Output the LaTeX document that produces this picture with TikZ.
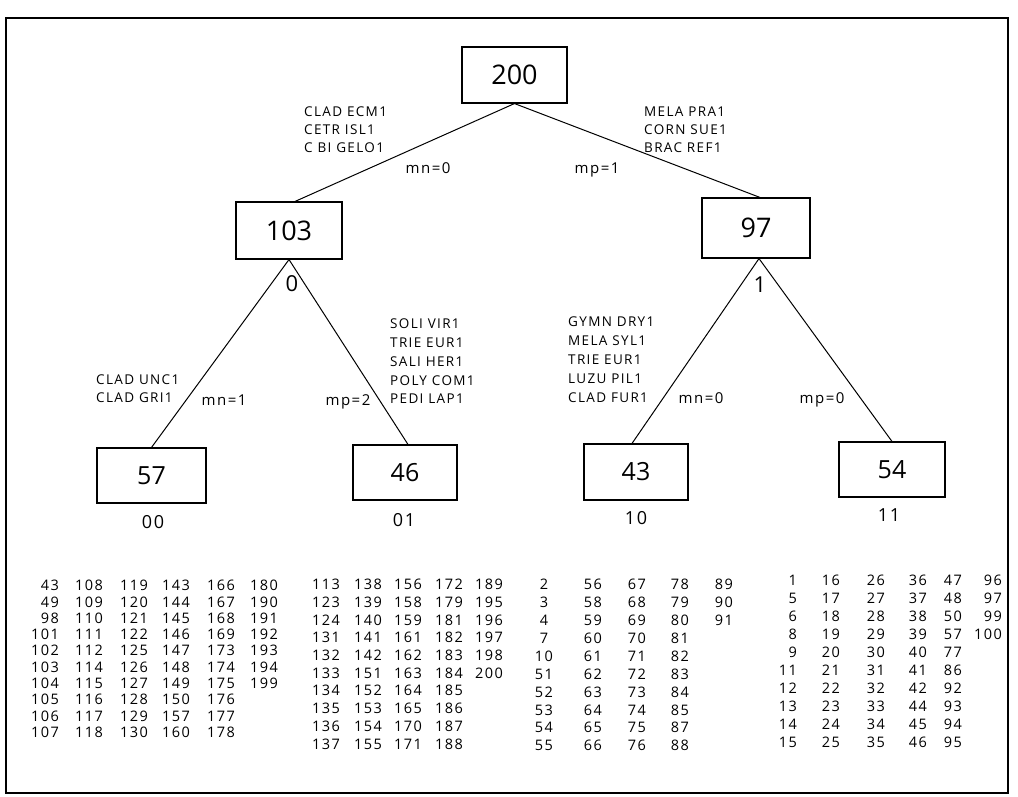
\documentclass[tikz,border=0pt]{standalone}
\usepackage{fontspec}
\setmainfont{Open Sans}
\newfontfamily\lab[LetterSpace=10]{Open Sans}
\begin{document}
\begin{tikzpicture}[x=1pt,y=-1pt,
  box/.style={draw,line width=1.1pt,inner sep=0pt,font=\fontsize{27}{27}\selectfont},
  leaf/.style={draw,line width=1.1pt,inner sep=0pt,font=\fontsize{25}{25}\selectfont},
  edge/.style={line width=1pt},
  lab/.style={font=\lab\fontsize{13.5}{18}\selectfont,align=left,inner sep=0pt,anchor=north west},
  el/.style={font=\lab\fontsize{15}{15}\selectfont,inner sep=0pt,anchor=base},
  bit/.style={font=\fontsize{22}{22}\selectfont,inner sep=0pt},
  code/.style={font=\lab\fontsize{18}{18}\selectfont,inner sep=0pt},
  numr/.style={font=\lab\fontsize{14.5}{16.3}\selectfont,align=right,inner sep=0pt,anchor=north east},
  numc/.style={font=\lab\fontsize{14.5}{17.9}\selectfont,align=center,inner sep=0pt,anchor=north}]
\useasboundingbox (0,0) rectangle (1018,796);
\draw[line width=1.8pt] (6,18) rectangle (1008,793);
% tree boxes
\node[box,minimum width=105pt,minimum height=56pt] (n200) at (514.5,75) {200};
\node[box,minimum width=106pt,minimum height=57pt] (n103) at (289,230.5) {103};
\node[box,minimum width=108pt,minimum height=60pt] (n97) at (756,228) {97};
\node[leaf,minimum width=109pt,minimum height=55pt] (n57) at (151.5,475.5) {57};
\node[leaf,minimum width=104pt,minimum height=55pt] (n46) at (405,472.5) {46};
\node[leaf,minimum width=104pt,minimum height=56pt] (n43) at (636,472) {43};
\node[leaf,minimum width=106pt,minimum height=55pt] (n54) at (892,469.5) {54};
% connectors
\draw[edge] (n200.south) -- ([xshift=6pt]n103.north);
\draw[edge] (n200.south) -- ([xshift=4pt]n97.north);
\draw[edge] (n103.south) -- (n57.north);
\draw[edge] (n103.south) -- ([xshift=3pt]n46.north);
\draw[edge] ([xshift=3pt]n97.south) -- ([xshift=-4pt]n43.north);
\draw[edge] ([xshift=3pt]n97.south) -- (n54.north);
% species labels
\node[lab] (l1) at (304,107) {CLAD ECM1\\CETR ISL1\\C BI GELO1};
\node[lab] (r1) at (644,107) {MELA PRA1\\CORN SUE1\\BRAC REF1};
\node[lab] (l2) at (96,375) {CLAD UNC1\\CLAD GRI1};
\node[lab,font=\lab\fontsize{13.5}{18.75}\selectfont] (r2) at (390,319) {SOLI VIR1\\TRIE EUR1\\SALI HER1\\POLY COM1\\PEDI LAP1};
\node[lab,font=\lab\fontsize{13.5}{19}\selectfont] (l3) at (568,317) {GYMN DRY1\\MELA SYL1\\TRIE EUR1\\LUZU PIL1\\CLAD FUR1};
% edge labels
\node[el] (e1) at (428,173) {mn=0};
\node[el] (e2) at (597,173) {mp=1};
\node[el] (e3) at (224,405) {mn=1};
\node[el] (e4) at (348,405) {mp=2};
\node[el] (e5) at (701,403) {mn=0};
\node[el] (e6) at (822,403) {mp=0};
\node[bit] (b0) at (292,284) {0};
\node[bit] (b1) at (760,285) {1};
% leaf codes
\node[code] (c00) at (153,522) {00};
\node[code] (c01) at (404,520) {01};
\node[code] (c10) at (636,518) {10};
\node[code] (c11) at (889,515) {11};
% group 1
\node[numr] (g1a) at (59,580) {43\\49\\98\\101\\102\\103\\104\\105\\106\\107};
\node[numr] (g1b) at (103,580) {108\\109\\110\\111\\112\\114\\115\\116\\117\\118};
\node[numr] (g1c) at (148,580) {119\\120\\121\\122\\125\\126\\127\\128\\129\\130};
\node[numr] (g1d) at (190,580) {143\\144\\145\\146\\147\\148\\149\\150\\157\\160};
\node[numr] (g1e) at (235,580) {166\\167\\168\\169\\173\\174\\175\\176\\177\\178};
\node[numr] (g1f) at (278,580) {180\\190\\191\\192\\193\\194\\199};
% group 2
\tikzset{numr2/.style={numr,font=\lab\fontsize{14.5}{17.7}\selectfont}}
\node[numr2] (g2a) at (340,579) {113\\123\\124\\131\\132\\133\\134\\135\\136\\137};
\node[numr2] (g2b) at (382,579) {138\\139\\140\\141\\142\\151\\152\\153\\154\\155};
\node[numr2] (g2c) at (422,579) {156\\158\\159\\161\\162\\163\\164\\165\\170\\171};
\node[numr2] (g2d) at (463,579) {172\\179\\181\\182\\183\\184\\185\\186\\187\\188};
\node[numr2] (g2e) at (503,579) {189\\195\\196\\197\\198\\200};
% group 3
\node[numc] (g3a) at (544,579) {2\\3\\4\\7\\10\\51\\52\\53\\54\\55};
\node[numc] (g3b) at (593,579) {56\\58\\59\\60\\61\\62\\63\\64\\65\\66};
\node[numc] (g3c) at (637,579) {67\\68\\69\\70\\71\\72\\73\\74\\75\\76};
\node[numc] (g3d) at (680,579) {78\\79\\80\\81\\82\\83\\84\\85\\87\\88};
\node[numc] (g3e) at (724,579) {89\\90\\91};
% group 4
\tikzset{numr4/.style={numr,font=\lab\fontsize{14.5}{18}\selectfont}}
\node[numr4] (g4a) at (797,575) {1\\5\\6\\8\\9\\11\\12\\13\\14\\15};
\node[numr4] (g4b) at (840,575) {16\\17\\18\\19\\20\\21\\22\\23\\24\\25};
\node[numr4] (g4c) at (885,575) {26\\27\\28\\29\\30\\31\\32\\33\\34\\35};
\node[numr4] (g4d) at (927,575) {36\\37\\38\\39\\40\\41\\42\\44\\45\\46};
\node[numr4] (g4e) at (962,575) {47\\48\\50\\57\\77\\86\\92\\93\\94\\95};
\node[numr4] (g4f) at (1002,575) {96\\97\\99\\100};
\end{tikzpicture}
\end{document}
